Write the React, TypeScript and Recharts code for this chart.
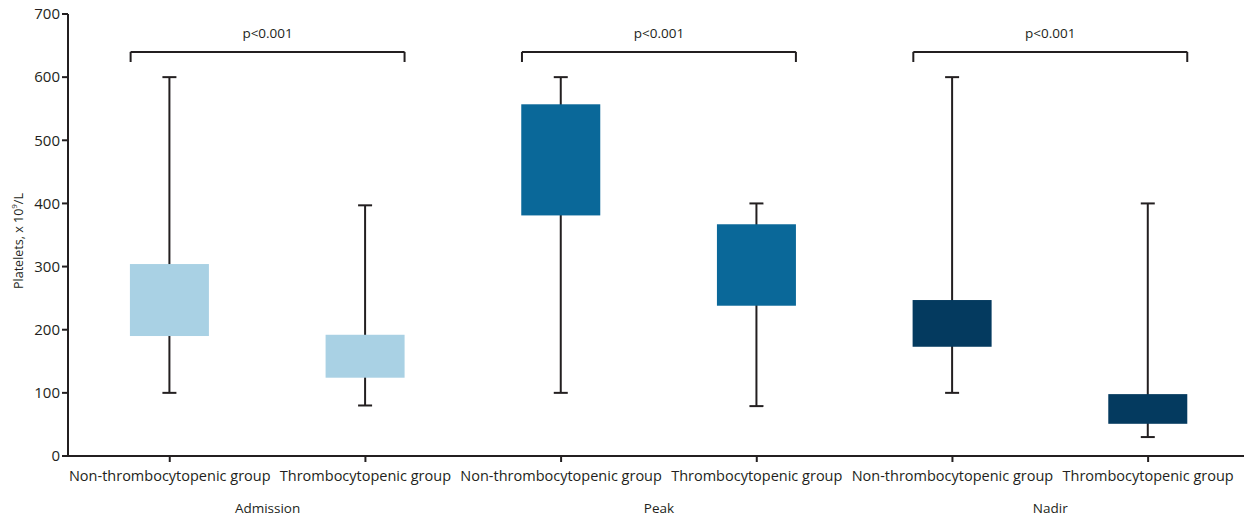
import React from 'react';
import { ComposedChart, Bar, XAxis, YAxis, ReferenceLine, ReferenceDot, Label } from 'recharts';

const categories = [
  'Non-thrombocytopenic group',
  'Thrombocytopenic group',
  'Non-thrombocytopenic group',
  'Thrombocytopenic group',
  'Non-thrombocytopenic group',
  'Thrombocytopenic group',
];
const groups = ['Admission', 'Peak', 'Nadir'];
const minValues = [100, 80, 100, 79, 100, 30];
const q1Values = [190, 124, 381, 238, 173, 51];
const q3Values = [304, 192, 557, 367, 247, 98];
const maxValues = [600, 397, 600, 400, 600, 400];
const yTicks = [0, 100, 200, 300, 400, 500, 600, 700];
const pLabels = ['p<0.001', 'p<0.001', 'p<0.001'];

const GROUP_COLORS = ['#a9d1e4', '#0a6899', '#043a5f'];
const INK = '#231f20';
const X_DOMAIN: [number, number] = [-0.52, 5.49];

const data = categories.map((name, i) => ({
  pos: i,
  name,
  min: minValues[i],
  q1: q1Values[i],
  q3: q3Values[i],
  max: maxValues[i],
}));

const BoxShape = (props: any) => {
  const { x, y, width, height, payload, index } = props;
  const { min, max, q1, q3 } = payload;
  const toY = (v: number) => y + ((max - v) / (max - min)) * height;
  const cx = x + width / 2;
  const cap = 7;
  const color = GROUP_COLORS[Math.floor(index / 2)];
  return (
    <g>
      <line x1={cx} x2={cx} y1={toY(max)} y2={toY(min)} stroke={INK} strokeWidth={2} />
      <line x1={cx - cap} x2={cx + cap} y1={toY(max)} y2={toY(max)} stroke={INK} strokeWidth={2} />
      <line x1={cx - cap} x2={cx + cap} y1={toY(min)} y2={toY(min)} stroke={INK} strokeWidth={2} />
      <rect x={x} y={toY(q3)} width={width} height={toY(q1) - toY(q3)} fill={color} />
    </g>
  );
};

const YLabel = (props: any) => {
  const vb = props.viewBox || { x: 0, y: 0, width: 60, height: 400 };
  const cx = vb.x + 10;
  const cy = vb.y + vb.height / 2 + 6;
  return (
    <text
      x={cx}
      y={cy}
      transform={`rotate(-90, ${cx}, ${cy})`}
      textAnchor="middle"
      dominantBaseline="central"
      fontSize={12.5}
      fill={INK}
    >
      Platelets, x 10
      <tspan dy={-5} fontSize={8}>9</tspan>
      <tspan dy={5}>/L</tspan>
    </text>
  );
};

const BRACKET_Y = 640;
const BRACKET_END = 624;
const P_Y = 670;

export default function App() {
  return (
    <div style={{ fontFamily: '"Open Sans", sans-serif', marginTop: -4 }}>
      <ComposedChart
        width={1251}
        height={512}
        data={data}
        margin={{ top: 10, right: 15, bottom: 0, left: 0 }}
      >
        <XAxis
          xAxisId="cat"
          dataKey="pos"
          type="number"
          domain={X_DOMAIN}
          allowDataOverflow
          ticks={[0, 1, 2, 3, 4, 5]}
          interval={0}
          tickFormatter={(v: number) => categories[v]}
          tick={{ fill: INK, fontSize: 14.5 }}
          tickSize={6}
          tickMargin={9}
          tickLine={{ stroke: INK, strokeWidth: 2 }}
          axisLine={{ stroke: INK, strokeWidth: 2 }}
          height={35}
        />
        <XAxis
          xAxisId="grp"
          dataKey="pos"
          type="number"
          domain={X_DOMAIN}
          allowDataOverflow
          ticks={[0.5, 2.5, 4.5]}
          interval={0}
          tickFormatter={(v: number) => groups[Math.round((v - 0.5) / 2)]}
          tick={{ fill: INK, fontSize: 13.5 }}
          tickMargin={6}
          tickLine={false}
          axisLine={false}
          height={25}
        />
        <YAxis
          type="number"
          domain={[0, 700]}
          ticks={yTicks}
          interval={0}
          width={60}
          tick={{ fill: INK, fontSize: 15 }}
          tickSize={6}
          tickLine={{ stroke: INK, strokeWidth: 2 }}
          axisLine={{ stroke: INK, strokeWidth: 2 }}
        >
          <Label content={<YLabel />} />
        </YAxis>
        <Bar
          xAxisId="cat"
          dataKey={(d: any) => [d.min, d.max]}
          barSize={79}
          shape={<BoxShape />}
          isAnimationActive={false}
        />
        {groups.map((g, gi) => {
          const a = gi * 2 - 0.2;
          const b = gi * 2 + 1 + 0.2;
          return (
            <React.Fragment key={g}>
              <ReferenceLine
                xAxisId="cat"
                segment={[{ x: a, y: BRACKET_Y }, { x: b, y: BRACKET_Y }]}
                stroke={INK}
                strokeWidth={2}
              />
              <ReferenceLine
                xAxisId="cat"
                segment={[{ x: a, y: BRACKET_Y }, { x: a, y: BRACKET_END }]}
                stroke={INK}
                strokeWidth={2}
              />
              <ReferenceLine
                xAxisId="cat"
                segment={[{ x: b, y: BRACKET_Y }, { x: b, y: BRACKET_END }]}
                stroke={INK}
                strokeWidth={2}
              />
              <ReferenceDot
                xAxisId="cat"
                x={gi * 2 + 0.5}
                y={P_Y}
                r={0}
                stroke="none"
                fill="none"
                label={{ value: pLabels[gi], position: 'center', fill: INK, fontSize: 13.5 }}
              />
            </React.Fragment>
          );
        })}
      </ComposedChart>
    </div>
  );
}
